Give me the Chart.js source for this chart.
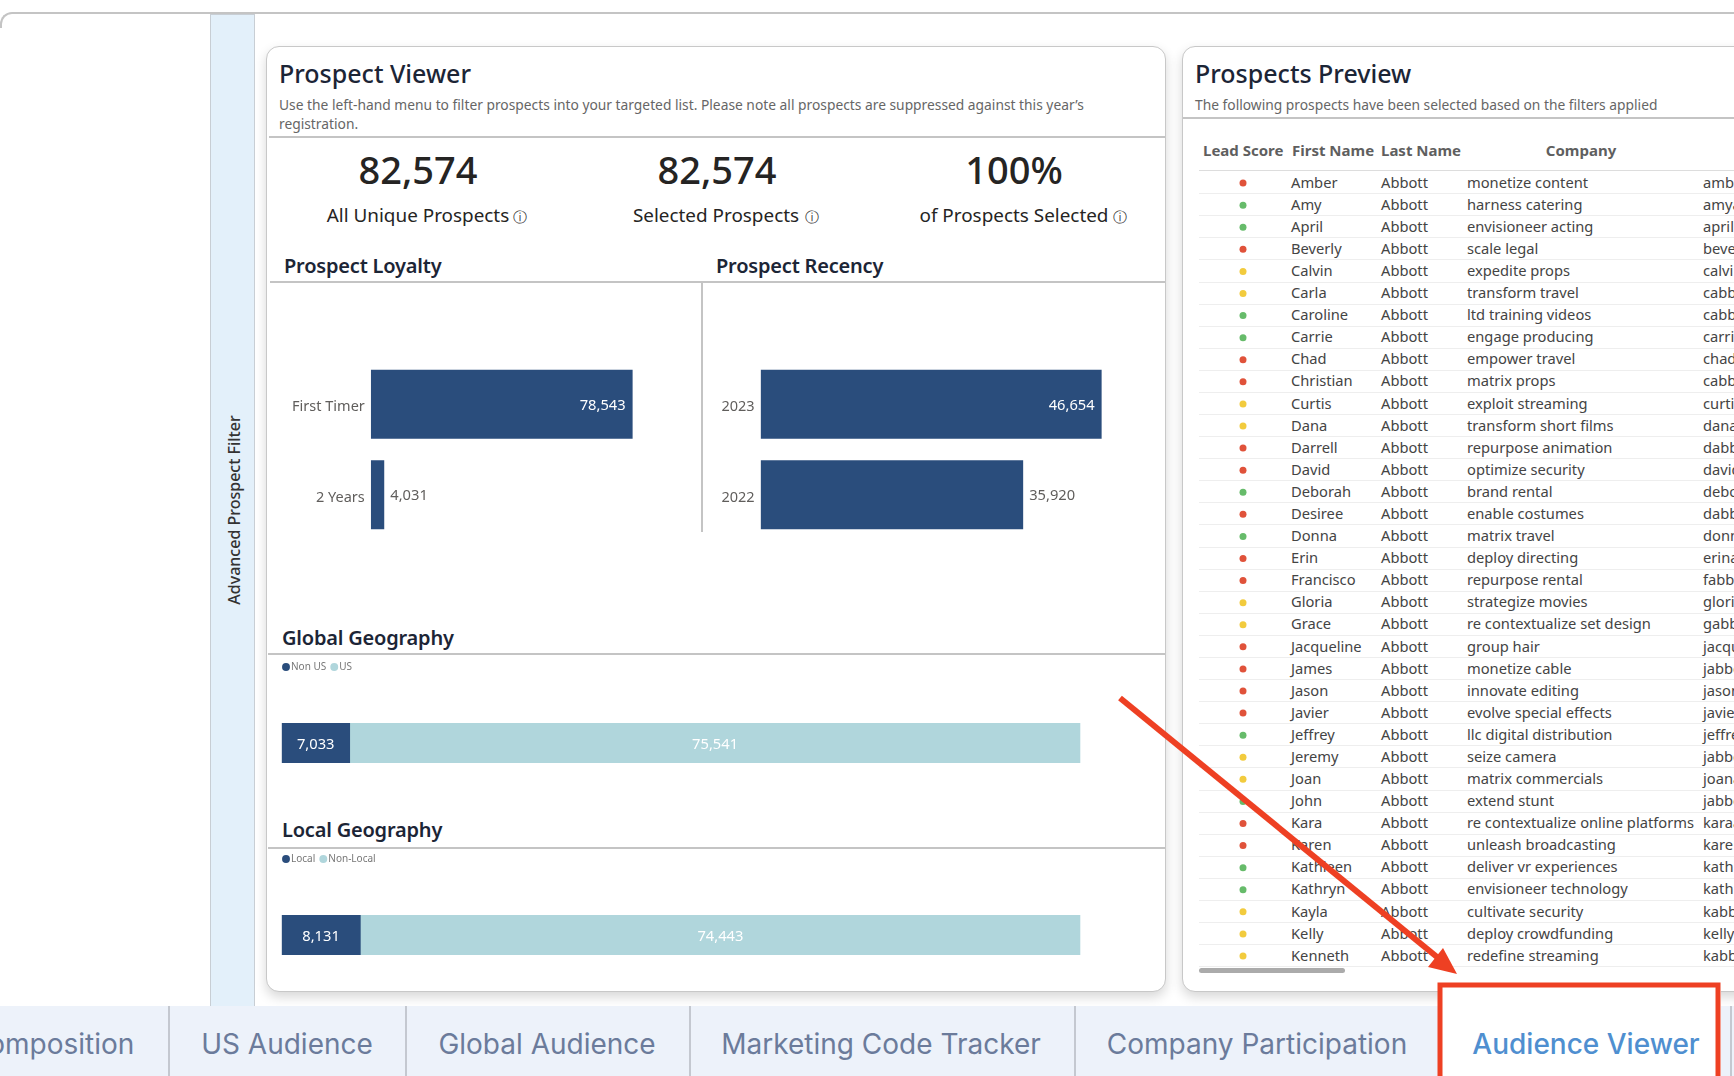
<!DOCTYPE html>
<html>
<head>
<meta charset="utf-8">
<title>Audience Viewer</title>
<script src="https://cdn.jsdelivr.net/npm/chart.js@4/dist/chart.umd.min.js"></script>
<style>
  html, body { margin: 0; width: 1734px; height: 1076px; overflow: hidden; background: #fff; font-family: "Noto Sans", sans-serif; }
  .abs { position: absolute; }
  .t { position: absolute; white-space: nowrap; line-height: 1; transform: translateY(-50%); }
  .c { position: absolute; white-space: nowrap; line-height: 1; transform: translate(-50%, -50%); }
  .card { position: absolute; top: 46px; height: 946px; background: #fff; border: 1px solid #c8c8c8; border-radius: 13px; box-shadow: 0 5px 12px rgba(0,0,0,.16); box-sizing: border-box; }
  .rule { position: absolute; height: 2px; background: #c4c4c4; }
  .title { font-size: 25px; font-weight: 500; color: #1c2536; }
  .sub { font-size: 13.8px; color: #666; }
  .head { font-size: 20px; font-weight: 600; color: #1c2536; letter-spacing: -.2px; }
  .kpi { font-size: 38px; font-weight: 500; color: #252423; }
  .kpilabel { font-size: 18.9px; color: #252423; }
  .info { font-family: "DejaVu Sans"; font-size: 14px; color: #333; }
  .th { font-size: 15px; font-weight: 700; color: #5f5f5f; }
  .td { font-size: 14.7px; color: #444; }
  .sep { position: absolute; left: 1199px; right: 0; height: 1px; background: #eee; }
  .tab { font-family: Inter, sans-serif; font-size: 28px; color: #6b7b9b; }
  .tabsep { position: absolute; top: 1006px; bottom: 0; width: 2px; background: #c4c8d0; }
  canvas { position: absolute; }
</style>
</head>
<body>

<div class="abs" style="left:0;right:-20px;top:12px;height:30px;border-top:2px solid #c4c4c4;border-left:2px solid #c4c4c4;border-top-left-radius:12px;box-sizing:border-box;clip-path:inset(0 0 14px 0)"></div>

<!-- filter pane on the left -->
<div class="abs" style="left:210px;top:14px;width:45px;height:992px;background:#e3f0fa;border:1px solid #c8ced4;border-bottom:0;box-sizing:border-box"></div>
<div class="c" style="left:234px;top:510px;font-size:16px;font-weight:500;color:#333;transform:translate(-50%,-50%) rotate(-90deg)">Advanced Prospect Filter</div>

<div class="card" style="left:266px;width:900px"></div>
<div class="card" style="left:1182px;width:700px"></div>

<div class="t title" style="left:279px;top:73px">Prospect Viewer</div>
<div class="t sub" style="left:279px;top:105px">Use the left-hand menu to filter prospects into your targeted list. Please note all prospects are suppressed against this year’s</div>
<div class="t sub" style="left:279px;top:124px">registration.</div>
<div class="rule" style="left:269px;width:896px;top:136px"></div>

<div class="c kpi" style="left:418px;top:169px">82,574</div>
<div class="c kpi" style="left:717px;top:169px">82,574</div>
<div class="c kpi" style="left:1014px;top:169px">100%</div>
<div class="c kpilabel" style="left:418px;top:215px">All Unique Prospects</div>
<div class="c kpilabel" style="left:716px;top:215px">Selected Prospects</div>
<div class="c kpilabel" style="left:1014px;top:215px">of Prospects Selected</div>
<div class="c info" style="left:520px;top:217px">ⓘ</div>
<div class="c info" style="left:812px;top:217px">ⓘ</div>
<div class="c info" style="left:1120px;top:217px">ⓘ</div>

<div class="t head" style="left:284px;top:266px">Prospect Loyalty</div>
<div class="t head" style="left:716px;top:266px">Prospect Recency</div>
<div class="rule" style="left:270px;width:895px;top:281px"></div>
<div class="abs" style="left:701px;top:282px;width:2px;height:250px;background:#c4c4c4"></div>

<canvas id="loyalty" width="430" height="181" style="left:270px;top:359px"></canvas>
<canvas id="recency" width="455" height="181" style="left:705px;top:359px"></canvas>

<div class="t head" style="left:282px;top:638px">Global Geography</div>
<div class="rule" style="left:268px;width:897px;top:653px"></div>
<canvas id="global" width="895" height="150" style="left:270px;top:654px"></canvas>

<div class="t head" style="left:282px;top:830px">Local Geography</div>
<div class="rule" style="left:268px;width:897px;top:847px"></div>
<canvas id="local" width="895" height="150" style="left:270px;top:846px"></canvas>

<div class="t title" style="left:1195px;top:73px">Prospects Preview</div>
<div class="t sub" style="left:1195px;top:105px">The following prospects have been selected based on the filters applied</div>
<div class="rule" style="left:1183px;right:0;top:117px"></div>

<div class="t th" style="left:1203px;top:150px">Lead Score</div>
<div class="t th" style="left:1292px;top:150px">First Name</div>
<div class="t th" style="left:1381px;top:150px">Last Name</div>
<div class="c th" style="left:1581px;top:150px">Company</div>
<div class="sep" style="top:170px;background:#ddd"></div>

<div id="rows"></div>
<canvas id="scores" width="20" height="795" style="left:1233px;top:171.7px"></canvas>
<div class="abs" style="left:1199px;top:968px;width:146px;height:5px;border-radius:3px;background:#ababab"></div>

<!-- report page tabs -->
<div class="abs" style="left:0;right:0;top:1006px;bottom:0;background:#edf2fa"></div>
<div class="abs" style="left:1438px;width:283px;top:983px;bottom:0;background:#fff"></div>
<div id="tabs"></div>

<svg class="abs" style="left:0;top:0" width="1734" height="1076">
  <line x1="1120" y1="698" x2="1437" y2="957" stroke="#ee4023" stroke-width="6"/>
  <polygon points="1457,974 1428,967 1443,948" fill="#ee4023"/>
  <rect x="1440" y="985" width="278" height="100" fill="none" stroke="#ee4023" stroke-width="5"/>
</svg>

<script>
const loyaltyLabels = ["First Timer", "2 Years"];
const loyaltyValues = [78543, 4031];
const recencyLabels = ["2023", "2022"];
const recencyValues = [46654, 35920];
const globalLabels = ["Non US", "US"];
const globalValues = [7033, 75541];
const localLabels = ["Local", "Non-Local"];
const localValues = [8131, 74443];

const firstNames = ["Amber", "Amy", "April", "Beverly", "Calvin", "Carla", "Caroline", "Carrie", "Chad", "Christian", "Curtis", "Dana", "Darrell", "David", "Deborah", "Desiree", "Donna", "Erin", "Francisco", "Gloria", "Grace", "Jacqueline", "James", "Jason", "Javier", "Jeffrey", "Jeremy", "Joan", "John", "Kara", "Karen", "Kathleen", "Kathryn", "Kayla", "Kelly", "Kenneth"];
const companies = ["monetize content", "harness catering", "envisioneer acting", "scale legal", "expedite props", "transform travel", "ltd training videos", "engage producing", "empower travel", "matrix props", "exploit streaming", "transform short films", "repurpose animation", "optimize security", "brand rental", "enable costumes", "matrix travel", "deploy directing", "repurpose rental", "strategize movies", "re contextualize set design", "group hair", "monetize cable", "innovate editing", "evolve special effects", "llc digital distribution", "seize camera", "matrix commercials", "extend stunt", "re contextualize online platforms", "unleash broadcasting", "deliver vr experiences", "envisioneer technology", "cultivate security", "deploy crowdfunding", "redefine streaming"];
const emails = ["amber", "amya", "april", "bever", "calvi", "cabbo", "cabbo", "carri", "chada", "cabbo", "curti", "danaa", "dabbo", "david", "debor", "dabbo", "donna", "erina", "fabbo", "glori", "gabbo", "jacqu", "jabbo", "jason", "javie", "jeffre", "jabbo", "joana", "jabbo", "karaa", "karen", "kathl", "kathr", "kabbo", "kelly", "kabbo"];
// 0 red, 1 yellow, 2 green
const leadScores = [0, 2, 2, 0, 1, 1, 2, 2, 0, 0, 1, 1, 0, 0, 2, 0, 2, 0, 0, 1, 1, 0, 0, 0, 0, 2, 1, 1, 2, 0, 0, 2, 2, 1, 1, 1];
const scoreColors = ["#e0523a", "#f2cb3d", "#66bb6a"];

const tabNames = ["Composition", "US Audience", "Global Audience", "Marketing Code Tracker", "Company Participation", "Audience Viewer"];
const tabCentres = [51, 287, 547, 881, 1257, 1586];
const tabSeps = [168, 405, 689, 1074, 1730];

const darkBlue = "#2a4d7c";
const lightBlue = "#b0d6dc";

// table text
const rowsEl = document.getElementById("rows");
let rowsHtml = "";
firstNames.forEach((name, i) => {
  const y = 181.7 + i * 22.086;
  rowsHtml += `<div class="t td" style="left:1291px;top:${y}px">${name}</div>`;
  rowsHtml += `<div class="t td" style="left:1381px;top:${y}px">Abbott</div>`;
  rowsHtml += `<div class="t td" style="left:1467px;top:${y}px">${companies[i]}</div>`;
  rowsHtml += `<div class="t td" style="left:1703px;top:${y}px">${emails[i]}</div>`;
  rowsHtml += `<div class="sep" style="top:${Math.round(y + 11.5)}px"></div>`;
});
rowsEl.innerHTML = rowsHtml;

// tabs
let tabsHtml = "";
tabNames.forEach((name, i) => {
  const active = i === tabNames.length - 1;
  tabsHtml += `<div class="c tab" style="left:${tabCentres[i]}px;top:1044px;${active ? "color:#4f8fd0;font-weight:500" : ""}">${name}</div>`;
});
tabSeps.forEach(x => { tabsHtml += `<div class="tabsep" style="left:${x}px"></div>`; });
document.getElementById("tabs").innerHTML = tabsHtml;

const fmt = v => v.toLocaleString("en-US");

// value labels, Chart.js has none of its own
const barLabels = {
  id: "barLabels",
  afterDatasetsDraw(chart, args, opts) {
    const ctx = chart.ctx;
    ctx.save();
    ctx.font = '14.7px "Noto Sans"';
    ctx.textBaseline = "middle";
    chart.data.datasets.forEach((ds, d) => {
      chart.getDatasetMeta(d).data.forEach((bar, i) => {
        const v = ds.data[i];
        const y = bar.y + 1.5;
        if (opts.stacked) {
          ctx.textAlign = "center";
          ctx.fillStyle = "#fff";
          ctx.fillText(fmt(v), (bar.base + bar.x) / 2, y);
        } else if (v >= opts.insideFrom) {
          ctx.textAlign = "right";
          ctx.fillStyle = "#fff";
          ctx.fillText(fmt(v), bar.x - 7, y);
        } else {
          ctx.textAlign = "left";
          ctx.fillStyle = "#605e5c";
          ctx.fillText(fmt(v), bar.x + 6, y);
        }
      });
    });
    ctx.restore();
  }
};

function rankChart(id, labels, values, axisMax, axisWidth) {
  new Chart(document.getElementById(id), {
    type: "bar",
    data: {
      labels: labels,
      datasets: [{ data: values, backgroundColor: darkBlue, barPercentage: 0.765, categoryPercentage: 1 }]
    },
    plugins: [barLabels],
    options: {
      indexAxis: "y",
      responsive: false,
      animation: false,
      layout: { padding: 0, autoPadding: false },
      plugins: { legend: { display: false }, tooltip: { enabled: false }, barLabels: { insideFrom: 40000 } },
      scales: {
        x: { display: false, min: 0, max: axisMax },
        y: {
          grid: { display: false, drawTicks: false },
          border: { display: false },
          ticks: { color: "#605e5c", padding: 6, labelOffset: 3, font: { family: "Noto Sans", size: 14.5 } },
          afterFit: scale => {
            scale.width = axisWidth;
            scale.paddingTop = 0;
            scale.paddingBottom = 0;
          }
        }
      }
    }
  });
}

function splitChart(id, labels, values) {
  new Chart(document.getElementById(id), {
    type: "bar",
    data: {
      labels: [""],
      datasets: labels.map((name, i) => ({
        label: name,
        data: [values[i]],
        backgroundColor: i === 0 ? darkBlue : lightBlue,
        barThickness: 39.5
      }))
    },
    plugins: [barLabels],
    options: {
      indexAxis: "y",
      responsive: false,
      animation: false,
      layout: { padding: { left: 8, right: 84.6 }, autoPadding: false },
      plugins: {
        tooltip: { enabled: false },
        barLabels: { stacked: true },
        legend: {
          align: "start",
          labels: {
            usePointStyle: true,
            pointStyle: "circle",
            boxWidth: 0.01,
            boxHeight: 5.6,
            padding: 8,
            color: "#777",
            font: { family: "Noto Sans", size: 10 }
          }
        }
      },
      scales: {
        x: { display: false, stacked: true, min: 0, max: values[0] + values[1] },
        y: {
          stacked: true,
          grid: { display: false, drawTicks: false },
          border: { display: false },
          ticks: { display: false },
          afterFit: scale => { scale.width = 3.7; }
        }
      }
    }
  });
}

rankChart("loyalty", loyaltyLabels, loyaltyValues, 98760, 100.8);
rankChart("recency", recencyLabels, recencyValues, 54640, 55.6);
splitChart("global", globalLabels, globalValues);
splitChart("local", localLabels, localValues);

// lead score dots share the table's row rhythm
new Chart(document.getElementById("scores"), {
  type: "scatter",
  data: {
    datasets: [{
      data: leadScores.map((s, i) => ({ x: 0, y: i })),
      pointBackgroundColor: leadScores.map(s => scoreColors[s]),
      pointBorderWidth: 0,
      pointRadius: 3.5
    }]
  },
  options: {
    responsive: false,
    animation: false,
    layout: { padding: 0, autoPadding: false },
    plugins: { legend: { display: false }, tooltip: { enabled: false } },
    scales: {
      x: { display: false, min: -1, max: 1 },
      y: { display: false, reverse: true, min: -0.5, max: 35.5 }
    }
  }
});
</script>
</body>
</html>
